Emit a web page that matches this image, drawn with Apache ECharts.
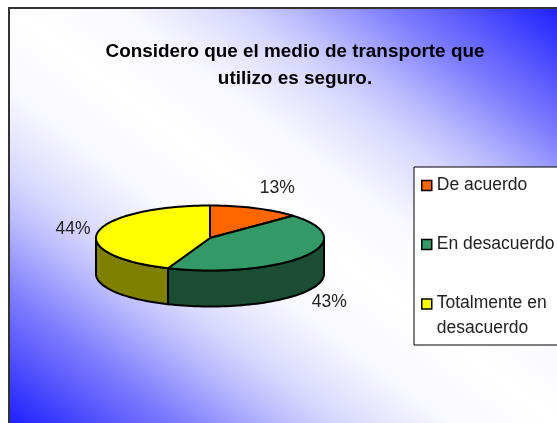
<!DOCTYPE html>
<html><head><meta charset="utf-8">
<style>html,body{margin:0;padding:0;background:#fff}#c{width:557px;height:423px}</style>
<script src="https://cdn.jsdelivr.net/npm/echarts@6/dist/echarts.min.js"></script>
</head><body><div id="c"></div>
<script>
const categories = ['De acuerdo', 'En desacuerdo', 'Totalmente en\ndesacuerdo'];
const values = [13, 43, 44];
const topColors = ['#FF6600', '#339966', '#FFFF00'];
const sideColors = ['#803300', '#1A4D33', '#808000'];

const pie = { cx: 210, cy: 238, rx: 114, ry: 32.5, depth: 36 };
const labelOffsets = [[22, -20], [25, 10], [-25, -3]];
const total = values.reduce((a, b) => a + b, 0);
const pt = (deg, dy) => {
  const r = deg * Math.PI / 180;
  return [pie.cx + pie.rx * Math.sin(r), pie.cy - pie.ry * Math.cos(r) + (dy || 0)];
};
const arc = (a, b, dy) => {
  const out = [], n = Math.max(2, Math.ceil(Math.abs(b - a) / 2));
  for (let i = 0; i <= n; i++) out.push(pt(a + (b - a) * i / n, dy));
  return out;
};
const lineStyle = { stroke: '#000', lineWidth: 2, lineJoin: 'round' };

function makeSeries(i) {
  const before = values.slice(0, i).reduce((a, b) => a + b, 0);
  const a1 = before / total * 360, a2 = (before + values[i]) / total * 360;
  const mid = (a1 + a2) / 2;
  return {
    type: 'custom', name: categories[i], coordinateSystem: 'none', z: 2,
    itemStyle: { color: topColors[i] },
    data: [[values[i]]],
    renderItem() {
      const children = [];
      const lo = Math.max(a1, 90), hi = Math.min(a2, 270);
      if (hi > lo) {
        children.push({ type: 'polygon', z2: 1,
          shape: { points: arc(lo, hi, 0).concat(arc(hi, lo, pie.depth)) },
          style: Object.assign({ fill: sideColors[i] }, lineStyle) });
      }
      children.push({ type: 'polygon', z2: 2,
        shape: { points: [[pie.cx, pie.cy]].concat(arc(a1, a2, 0)) },
        style: Object.assign({ fill: topColors[i] }, lineStyle) });
      const m = pt(mid, mid > 90 && mid < 270 ? pie.depth : 0);
      children.push({ type: 'text', z2: 3,
        x: m[0] + labelOffsets[i][0], y: m[1] + labelOffsets[i][1],
        style: { text: Math.round(values[i] / total * 100) + '%', fill: '#222',
          font: '17.5px "Liberation Sans", Arial, sans-serif', align: 'center', verticalAlign: 'middle' } });
      return { type: 'group', children };
    }
  };
}

const legendBase = {
  orient: 'vertical', padding: 0, itemWidth: 10, itemHeight: 10, icon: 'rect',
  selectedMode: false, z: 5,
  itemStyle: { borderColor: '#000', borderWidth: 1.5 },
  textStyle: { fontFamily: '"Liberation Sans", Arial, sans-serif', fontSize: 17.5, color: '#222', lineHeight: 25 }
};
const legendTops = [173, 232];
const gradientStops = [
  [0, '#2020FF'], [0.05, '#3D3DFF'], [0.1, '#5C5CFF'], [0.15, '#7979FF'], [0.2, '#9B9BFF'],
  [0.25, '#BCBCFF'], [0.3, '#D7D7FF'], [0.4, '#F8F8FF'], [0.5, '#FFFFFF'], [0.6, '#F8F8FF'],
  [0.7, '#D7D7FF'], [0.75, '#BCBCFF'], [0.8, '#9B9BFF'], [0.85, '#7979FF'], [0.9, '#5C5CFF'],
  [0.95, '#3D3DFF'], [1, '#2020FF']
].map(s => ({ offset: s[0], color: s[1] }));
const chart = echarts.init(document.getElementById('c'), null, { renderer: 'canvas' });
chart.setOption({
  animation: false,
  title: {
    text: 'Considero que el medio de transporte que\nutilizo es seguro.',
    left: 290, top: 33, textAlign: 'center',
    textStyle: { fontFamily: '"Liberation Sans", Arial, sans-serif', fontSize: 18.9, fontWeight: 'bold', color: '#000', lineHeight: 27 }
  },
  legend: [
    Object.assign({}, legendBase, { data: [categories[0]], left: 421, top: legendTops[0] }),
    Object.assign({}, legendBase, { data: [categories[1]], left: 421, top: legendTops[1] }),
    Object.assign({}, legendBase, {
      data: [{ name: categories[2], icon: 'path://M0 0L0 0M0 7H10V17H0ZM0 48L0 48' }],
      left: 421, top: 291, itemHeight: 48 })
  ],
  graphic: [
    { type: 'rect', z: -10, silent: true, shape: { x: 9, y: 8, width: 560, height: 430 },
      style: { stroke: '#333', lineWidth: 2,
        fill: new echarts.graphic.LinearGradient(83, 479, 483, -49, gradientStops, true) } },
    { type: 'rect', z: 1, silent: true, shape: { x: 414, y: 167, width: 160, height: 178 },
      style: { fill: '#fff', stroke: '#000', lineWidth: 1 } }
  ],
  series: values.map((_, i) => makeSeries(i))
});
</script></body></html>
